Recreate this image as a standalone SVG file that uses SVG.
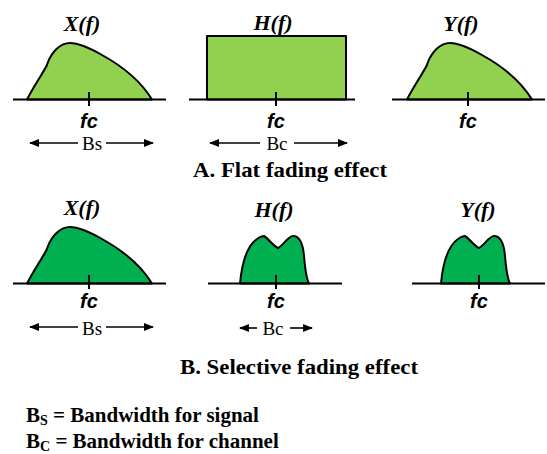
<svg xmlns="http://www.w3.org/2000/svg" width="547" height="454" viewBox="0 0 547 454">
<style>
.axis{stroke:#000;stroke-width:2;fill:none}
.tick{stroke:#000;stroke-width:2}
.lightfill{fill:#92D050;stroke:#000;stroke-width:2;stroke-linejoin:round}
.darkfill{fill:#00B050;stroke:#000;stroke-width:2;stroke-linejoin:round}
.fn{font-family:"Liberation Serif",serif;font-weight:bold;font-style:italic;font-size:22px;text-anchor:middle;fill:#000}
.fc{font-family:"Liberation Sans",sans-serif;font-weight:bold;font-style:italic;font-size:20px;text-anchor:middle;fill:#000}
.bw{font-family:"Liberation Serif",serif;font-size:19px;text-anchor:middle;fill:#000}
.title{font-family:"Liberation Serif",serif;font-weight:bold;font-size:22px;text-anchor:middle;fill:#000}
.legend{font-family:"Liberation Serif",serif;font-weight:bold;font-size:21px;fill:#000}
.arr{stroke:#000;stroke-width:1.6;fill:none}
</style>
<defs>
<marker id="ah" viewBox="0 0 10 8" refX="9" refY="4" markerWidth="10" markerHeight="8" markerUnits="userSpaceOnUse" orient="auto">
<path d="M0,0 L10,4 L0,8 Z" fill="#000"/>
</marker>
<path id="hump" d="M27,99.5 C33,88 39,79 43,72 C46,67 47,66 48,62 C52,52 60,43 70,43 C78,43 88,47 102,55 C122,66 140,80 152,99.5 Z"/>
<path id="dbl" d="M240,283.5 C242,262 247,246 257,239 C260,237 262,236 264,236 C268,238 273,246 278,248 C283,246 288,236 293,236 C300,236 303,244 304,256 C305,268 306,278 309,283.5 Z"/>
</defs>

<g id="rowA-X">
<use href="#hump" class="lightfill"/>
<line class="axis" x1="13" y1="99.5" x2="166" y2="99.5"/>
<line class="tick" x1="89" y1="92" x2="89" y2="106"/>
<text class="fn" x="82" y="31">X(f)</text>
<text class="fc" x="89" y="128">fc</text>
<text class="bw" x="92" y="150">Bs</text>
</g>

<g id="rowA-H">
<rect x="207" y="36" width="139" height="63.5" class="lightfill"/>
<line class="axis" x1="189" y1="99.5" x2="355" y2="99.5"/>
<line class="tick" x1="276" y1="92" x2="276" y2="106"/>
<text class="fn" x="273" y="30">H(f)</text>
<text class="fc" x="276" y="128">fc</text>
<text class="bw" x="277" y="150">Bc</text>
</g>

<g id="rowA-Y">
<use href="#hump" class="lightfill" transform="translate(380,0)"/>
<line class="axis" x1="392" y1="99.5" x2="545" y2="99.5"/>
<line class="tick" x1="468" y1="92" x2="468" y2="106"/>
<text class="fn" x="461" y="31">Y(f)</text>
<text class="fc" x="468" y="128">fc</text>
</g>

<g id="titleA">
<text class="title" x="290" y="177" textLength="194" lengthAdjust="spacingAndGlyphs">A. Flat fading effect</text>
</g>

<g id="rowB-X">
<use href="#hump" class="darkfill" transform="translate(0,184)"/>
<line class="axis" x1="13" y1="283.5" x2="166" y2="283.5"/>
<line class="tick" x1="89" y1="275" x2="89" y2="289"/>
<text class="fn" x="82" y="215">X(f)</text>
<text class="fc" x="89" y="308">fc</text>
<text class="bw" x="92" y="335">Bs</text>
</g>

<g id="rowB-H">
<use href="#dbl" class="darkfill"/>
<line class="axis" x1="208" y1="283.5" x2="342" y2="283.5"/>
<line class="tick" x1="276" y1="275" x2="276" y2="289"/>
<text class="fn" x="274" y="217">H(f)</text>
<text class="fc" x="276" y="308">fc</text>
<text class="bw" x="273" y="335">Bc</text>
</g>

<g id="rowB-Y">
<use href="#dbl" class="darkfill" transform="translate(201,0)"/>
<line class="axis" x1="412" y1="283.5" x2="545" y2="283.5"/>
<line class="tick" x1="479" y1="275" x2="479" y2="289"/>
<text class="fn" x="478" y="217">Y(f)</text>
<text class="fc" x="479" y="308">fc</text>
</g>

<g id="titleB">
<text class="title" x="299" y="374" textLength="238" lengthAdjust="spacingAndGlyphs">B. Selective fading effect</text>
</g>

<g id="connectors">
<line class="arr" x1="78" y1="143" x2="30" y2="143" marker-end="url(#ah)"/>
<line class="arr" x1="106" y1="143" x2="153" y2="143" marker-end="url(#ah)"/>
<line class="arr" x1="260" y1="143" x2="210" y2="143" marker-end="url(#ah)"/>
<line class="arr" x1="294" y1="143" x2="347" y2="143" marker-end="url(#ah)"/>
<line class="arr" x1="78" y1="327" x2="30" y2="327" marker-end="url(#ah)"/>
<line class="arr" x1="106" y1="327" x2="153" y2="327" marker-end="url(#ah)"/>
<line class="arr" x1="257" y1="328" x2="240" y2="328" marker-end="url(#ah)"/>
<line class="arr" x1="290" y1="328" x2="312" y2="328" marker-end="url(#ah)"/>
</g>

<g id="legend">
<text class="legend" x="26" y="422">B<tspan font-size="14" dy="3">S</tspan><tspan dy="-3"> = Bandwidth for signal</tspan></text>
<text class="legend" x="26" y="448">B<tspan font-size="14" dy="3">C</tspan><tspan dy="-3"> = Bandwidth for channel</tspan></text>
</g>
</svg>
